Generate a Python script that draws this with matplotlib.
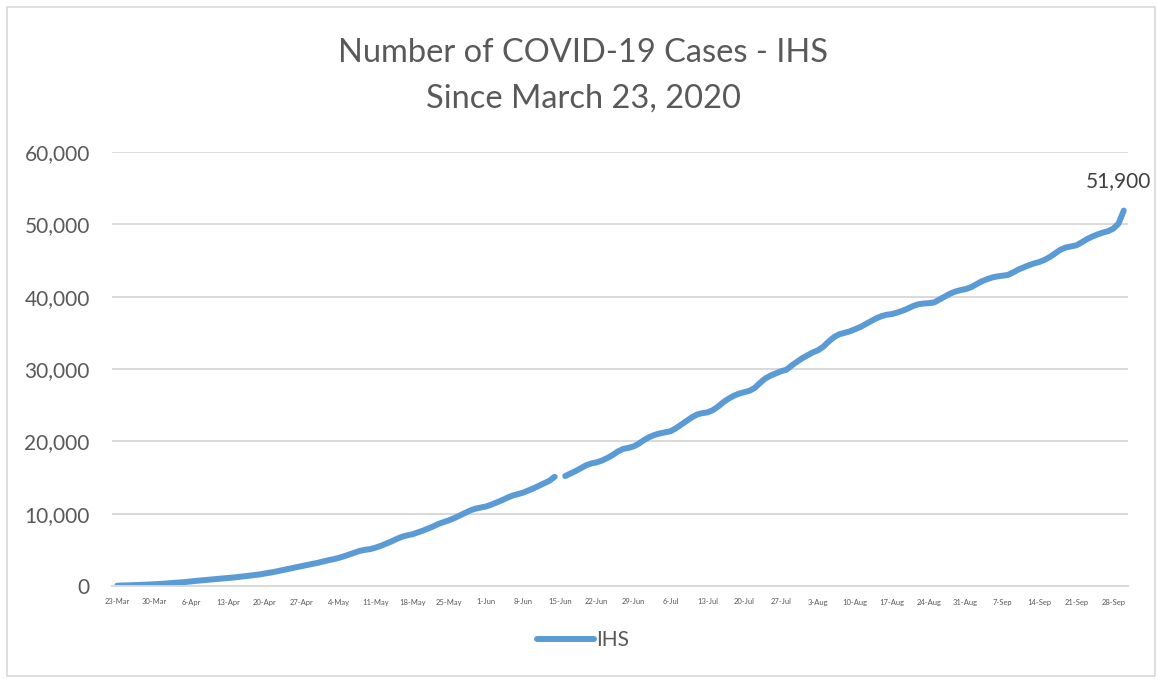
import numpy as np
import pandas as pd
import matplotlib
matplotlib.use('Agg')
import matplotlib.pyplot as plt
from matplotlib.patches import Rectangle

# daily cumulative IHS cases, 23-Mar to 30-Sep 2020 (15-Jun missing)
cases = [
    50, 70, 90, 110, 140, 170, 200,
    240, 280, 330, 380, 440, 500, 560,
    640, 710, 780, 850, 920, 980, 1040,
    1100, 1170, 1250, 1330, 1420, 1510, 1600,
    1720, 1850, 1980, 2130, 2290, 2450, 2600,
    2750, 2900, 3050, 3200, 3380, 3550, 3700,
    3880, 4100, 4350, 4600, 4850, 5000, 5100,
    5300, 5550, 5850, 6150, 6500, 6800, 7000,
    7150, 7400, 7650, 7950, 8250, 8600, 8850,
    9100, 9400, 9750, 10100, 10450, 10700, 10850,
    11000, 11250, 11550, 11850, 12200, 12500, 12700,
    12900, 13200, 13500, 13850, 14200, 14550, 15100,
    np.nan, 15200, 15550, 15900, 16300, 16700, 16950,
    17100, 17350, 17700, 18100, 18600, 18950, 19100,
    19300, 19700, 20200, 20600, 20900, 21100, 21250,
    21400, 21800, 22300, 22800, 23300, 23700, 23900,
    24000, 24300, 24800, 25400, 25900, 26300, 26600,
    26800, 27000, 27400, 28100, 28700, 29100, 29400,
    29700, 29900, 30500, 31000, 31500, 31900, 32300,
    32600, 33100, 33800, 34400, 34800, 35000, 35200,
    35500, 35800, 36200, 36600, 37000, 37300, 37500,
    37600, 37800, 38050, 38350, 38700, 38950, 39050,
    39100, 39200, 39600, 40000, 40400, 40700, 40900,
    41050, 41300, 41700, 42100, 42400, 42650, 42800,
    42900, 43000, 43350, 43750, 44050, 44350, 44600,
    44800, 45100, 45500, 46000, 46500, 46800, 46950,
    47100, 47500, 47950, 48300, 48600, 48850, 49050,
    49400, 50100, 51900,
]
dates = pd.date_range('2020-03-23', periods=len(cases), freq='D')
tick_labels = [d.strftime('%-d-%b') for d in dates[::7]]
last_label = '51,900'

blue = '#5b9bd5'
grey_txt = '#595959'
grid_c = '#d9d9d9'

plt.rcParams['font.family'] = ['Lato', 'DejaVu Sans']

fig = plt.figure(figsize=(11.57, 6.79), dpi=100)
ax = fig.add_axes([112 / 1157, 93 / 679, (1128 - 112) / 1157, (586 - 152) / 679])

x = np.arange(len(cases))
ax.plot(x, cases, color=blue, lw=4.3, solid_capstyle='round', solid_joinstyle='round', label='IHS')

ax.set_ylim(0, 60000)
ax.set_xlim(-1, len(cases) - 0.2)
ax.set_yticks(np.arange(0, 60001, 10000))
ax.set_yticklabels([f'{v:,}' for v in range(0, 60001, 10000)], fontsize=15, color=grey_txt)
ax.set_xticks(x[::7])
ax.set_xticklabels(tick_labels, fontsize=5.5, color=grey_txt)
ax.tick_params(axis='both', length=0)
ax.tick_params(axis='y', pad=16)
ax.tick_params(axis='x', pad=9)
ax.grid(axis='y', color=grid_c, lw=1.4)
ax.set_axisbelow(True)
for s in ['top', 'right', 'left']:
    ax.spines[s].set_visible(False)
ax.spines['bottom'].set_color(grid_c)
ax.spines['bottom'].set_linewidth(1.4)

ax.annotate(last_label, (x[-1], cases[-1]), xytext=(-4, 14), textcoords='offset points',
            ha='center', va='bottom', fontsize=15, color='#404040')

fig.text(0.504, 1 - 53 / 679, 'Number of COVID-19 Cases - IHS', ha='center', va='center',
         fontsize=23.5, color=grey_txt)
fig.text(0.504, 1 - 99 / 679, 'Since March 23, 2020', ha='center', va='center',
         fontsize=23.5, color=grey_txt)

leg = ax.legend(loc='center', bbox_to_anchor=(583 / 1157, 1 - 640 / 679),
                bbox_transform=fig.transFigure, frameon=False, fontsize=15,
                handlelength=2.7, handletextpad=0.1)
for t in leg.get_texts():
    t.set_color(grey_txt)

fig.patches.append(Rectangle((7 / 1157, 3 / 679), 1148 / 1157, 669 / 679, transform=fig.transFigure,
                             fill=False, edgecolor=grid_c, lw=1.2))

fig.savefig('out.png', dpi=100)
